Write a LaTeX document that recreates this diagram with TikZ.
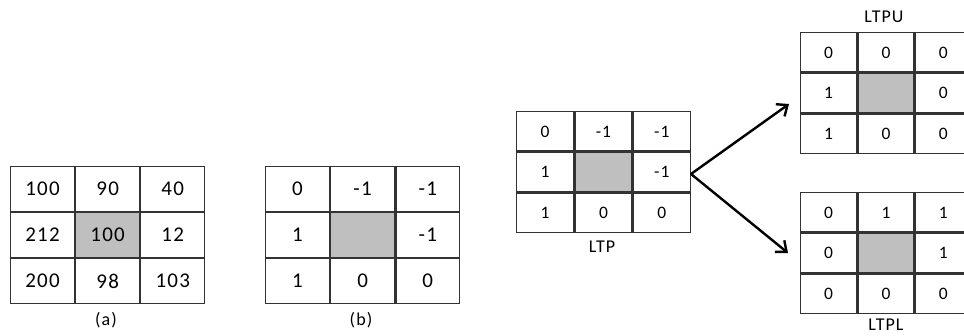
\documentclass[tikz,border=0pt]{standalone}
\usepackage{fontspec}
\setmainfont{Carlito}
\newfontfamily\gridfont[LetterSpace=6]{Carlito}
\usetikzlibrary{matrix,arrows.meta}
\begin{document}
\begin{tikzpicture}[x=1pt,y=-1pt,
  grid/.style={matrix of nodes, nodes in empty cells,
    inner sep=0pt, outer sep=0pt, column sep=0pt, row sep=0pt, anchor=north west,
    nodes={draw=black!80, line width=1.3pt, inner sep=0pt, outer sep=0pt,
      anchor=center, text=black}},
  bigcells/.style={nodes={minimum width=63.8pt, minimum height=44.7pt,
      font=\gridfont\fontsize{21}{24}\selectfont}},
  smallcells/.style={nodes={minimum width=#1, minimum height=39.5pt,
      font=\gridfont\fontsize{17.5}{20}\selectfont}},
  centre/.style={fill=black!25},
  caption/.style={font=\gridfont\fontsize{18}{21}\selectfont, text=black, inner sep=0pt},
  fork/.style={line width=2.4pt, line cap=round,
    -{Straight Barb[length=9pt,width=15pt,line width=2.4pt]}}
]
\useasboundingbox (0,0) rectangle (964,336);
\clip (0,0) rectangle (964,336);

% (a) grey-level neighbourhood
\matrix (A) [grid, bigcells] at (10,166) {
  100 & 90 & 40 \\
  212 & |[centre]| 100 & 12 \\
  200 & 98 & 103 \\
};
\node[caption] (capA) at (106,320) {(a)};

% (b) ternary code
\matrix (B) [grid, bigcells] at (265,166) {
  0 & -1 & -1 \\
  1 & |[centre]| & -1 \\
  1 & 0 & 0 \\
};
\node[caption] (capB) at (361,320) {(b)};

% LTP pattern
\matrix (P) [grid, smallcells=57pt] at (516,111) {
  0 & -1 & -1 \\
  1 & |[centre]| & -1 \\
  1 & 0 & 0 \\
};
\node[caption] (capP) at (602,247) {LTP};

% upper pattern
\matrix (U) [grid, smallcells=56pt] at (800,32) {
  0 & 0 & 0 \\
  1 & |[centre]| & 0 \\
  1 & 0 & 0 \\
};
\node[caption] (capU) at (884,17) {LTPU};

% lower pattern
\matrix (L) [grid, smallcells=56pt] at (800,192) {
  0 & 1 & 1 \\
  0 & |[centre]| & 1 \\
  0 & 0 & 0 \\
};
\node[caption] (capL) at (886,325) {LTPL};

% split arrows
\coordinate (split) at (691,174);
\coordinate (upTip) at (789,104);
\coordinate (lowTip) at (788,253);
\draw[fork] (split) -- (upTip);
\draw[fork] (split) -- (lowTip);
\end{tikzpicture}
\end{document}
